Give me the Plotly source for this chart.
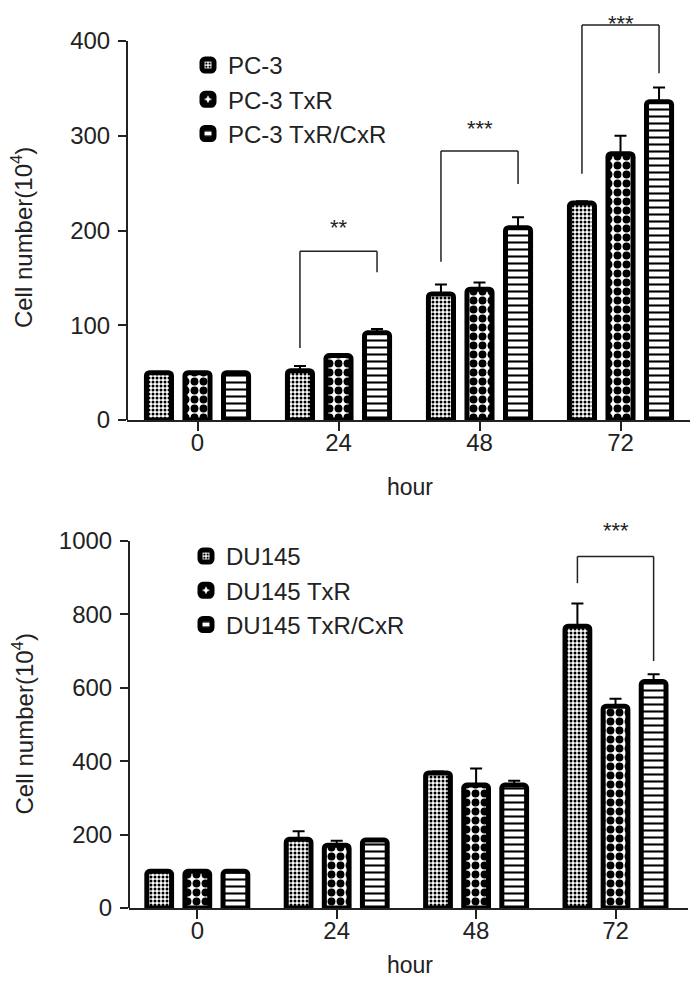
import plotly.graph_objects as go

# ---------------- data ----------------
hours = ["0", "24", "48", "72"]
xs = [0, 1, 2, 3]

pc3_names = ["PC-3", "PC-3 TxR", "PC-3 TxR/CxR"]
pc3 = [50, 52, 133, 229]
pc3_err = [0, 5, 10, 2]
pc3_txr = [50, 68, 138, 281]
pc3_txr_err = [0, 1, 7, 19]
pc3_cxr = [50, 92, 203, 336]
pc3_cxr_err = [0, 4, 11, 15]

du_names = ["DU145", "DU145 TxR", "DU145 TxR/CxR"]
du = [100, 187, 368, 768]
du_err = [0, 22, 4, 62]
du_txr = [100, 171, 335, 550]
du_txr_err = [0, 12, 45, 20]
du_cxr = [100, 185, 335, 617]
du_cxr_err = [0, 2, 12, 20]

# brackets: (group index, left series, right series, left foot, top, right foot, label, label y)
top_brackets = [
    (1, 0, 2, 76, 178, 156, "**", 203),
    (2, 0, 2, 167, 284, 249, "***", 308),
    (3, 0, 2, 260, 417, 366, "***", 434),
]
bot_brackets = [
    (3, 0, 2, 885, 958, 673, "***", 1029),
]

# ---------------- style ----------------
FONT = "Liberation Sans, Arial, sans-serif"
OFF = 8                      # page body margin of the html page
W, H = 698 - 2 * OFF, 986 - 2 * OFF
BARGAP = 0.18
GROUPGAP = 0.35
SLOT = (1 - BARGAP) / 3


def fx(p):
    """screen x pixel -> paper fraction"""
    return (p - OFF) / W


def fy(p):
    """screen y pixel -> paper fraction"""
    return (H - (p - OFF)) / H


patterns = [
    dict(shape=".", size=4, solidity=0.45),
    dict(shape=".", size=9, solidity=0.6),
    dict(shape="-", size=7, solidity=0.3),
]

# axis geometry (screen pixels)
Y1_ZERO_PX, Y1_400_PX = 420, 41
Y2_ZERO_PX, Y2_1000_PX = 908, 541
y1_scale = (Y1_ZERO_PX - Y1_400_PX) / 400.0
y1_top = (Y1_ZERO_PX - OFF) / y1_scale          # value at the very top of the page
y2_scale = (Y2_ZERO_PX - Y2_1000_PX) / 1000.0
y2_top = 1060

fig = go.Figure()


def add_series(vals, errs, name, pat, xa, ya, legend):
    fig.add_trace(go.Bar(
        x=xs, y=vals, name=name, xaxis=xa, yaxis=ya, legend=legend,
        legendgroup=name,
        marker=dict(color="white", line=dict(color="black", width=5),
                    cornerradius=3,
                    pattern=dict(fgcolor="black", bgcolor="white",
                                 fillmode="replace", **pat)),
        error_y=dict(type="data", array=errs, arrayminus=[0] * len(errs),
                     symmetric=False, color="black", thickness=2, width=6),
    ))


for v, e, n, p in zip([pc3, pc3_txr, pc3_cxr], [pc3_err, pc3_txr_err, pc3_cxr_err],
                      pc3_names, patterns):
    add_series(v, e, n, p, "x", "y", "legend")
for v, e, n, p in zip([du, du_txr, du_cxr], [du_err, du_txr_err, du_cxr_err],
                      du_names, patterns):
    add_series(v, e, n, p, "x2", "y2", "legend2")

shapes = []
annotations = []


def add_brackets(brs, xr, yr, fs, ytop):
    for g, a, b, lf, top, rf, lab, ly in brs:
        xa = g + (a - 1) * SLOT
        xb = g + (b - 1) * SLOT
        for (x0, y0, x1, y1) in [(xa, lf, xa, top), (xa, top, xb, top), (xb, top, xb, rf)]:
            shapes.append(dict(type="line", xref=xr, yref=yr, x0=x0, y0=y0, x1=x1, y1=y1,
                               line=dict(color="#222", width=1.5)))
        near_top = ly > ytop - 8
        annotations.append(dict(x=(xa + xb) / 2, y=min(ly, ytop - 0.5), xref=xr, yref=yr,
                                text=lab, xanchor="center",
                                yanchor="top" if near_top else "middle",
                                showarrow=False,
                                font=dict(size=fs, color="#222", family=FONT)))


add_brackets(top_brackets, "x", "y", 22, y1_top)
add_brackets(bot_brackets, "x2", "y2", 22, y2_top)

# domains
x1_dom = [fx(127), 1.0]
x2_dom = [fx(129), fx(688)]
y1_dom = [fy(Y1_ZERO_PX), 1.0]
y2_dom = [fy(Y2_ZERO_PX), fy(Y2_ZERO_PX - y2_top * y2_scale)]
GROUP_PX1 = 141.0
x1_span = (W - (127 - OFF)) / GROUP_PX1

# y axis lines (only up to the last tick)
shapes.append(dict(type="line", xref="paper", yref="y", x0=x1_dom[0], x1=x1_dom[0],
                   y0=0, y1=400, line=dict(color="#222", width=2)))
shapes.append(dict(type="line", xref="paper", yref="y2", x0=x2_dom[0], x1=x2_dom[0],
                   y0=0, y1=1000, line=dict(color="#222", width=2)))

# axis titles
ytitle_font = dict(size=24, color="#222", family=FONT)
xtitle_font = dict(size=23, color="#222", family=FONT)
annotations += [
    dict(text="Cell number(10<sup>4</sup>)", textangle=-90, xref="paper", yref="y",
         x=fx(22), y=192, xanchor="center", yanchor="middle", showarrow=False,
         font=ytitle_font),
    dict(text="Cell number(10<sup>4</sup>)", textangle=-90, xref="paper", yref="y2",
         x=fx(22), y=500, xanchor="center", yanchor="middle", showarrow=False,
         font=ytitle_font),
    dict(text="hour", xref="paper", yref="paper", x=fx(410), y=fy(487),
         xanchor="center", yanchor="middle", showarrow=False, font=xtitle_font),
    dict(text="hour", xref="paper", yref="paper", x=fx(410), y=fy(965),
         xanchor="center", yanchor="middle", showarrow=False, font=xtitle_font),
]

tick_font = dict(size=24, color="#222", family=FONT)
xcommon = dict(tickvals=xs, ticktext=hours, showline=True, linecolor="#222", linewidth=2,
               ticks="outside", ticklen=9, tickwidth=2, tickcolor="#222",
               showgrid=False, zeroline=False, tickfont=tick_font, ticklabelstandoff=-9,
               automargin=False, fixedrange=True)
ycommon = dict(showline=False, ticks="outside", ticklen=8, tickwidth=2, tickcolor="#222",
               showgrid=False, zeroline=False, tickfont=tick_font, ticklabelstandoff=3,
               automargin=False, fixedrange=True)

leg_font = dict(size=24, family=FONT, color="#222")
fig.update_layout(
    width=W, height=H, margin=dict(l=0, r=0, t=0, b=0, autoexpand=False),
    paper_bgcolor="white", plot_bgcolor="white",
    barmode="group", bargap=BARGAP, bargroupgap=GROUPGAP,
    font=dict(family=FONT, color="#222"),
    xaxis=dict(domain=x1_dom, range=[-0.5, -0.5 + x1_span], anchor="y", **xcommon),
    xaxis2=dict(domain=x2_dom, range=[-0.49, 3.52], anchor="y2", **xcommon),
    yaxis=dict(domain=y1_dom, range=[0, y1_top], tickvals=[0, 100, 200, 300, 400],
               anchor="x", **ycommon),
    yaxis2=dict(domain=y2_dom, range=[0, y2_top], tickvals=[0, 200, 400, 600, 800, 1000],
                anchor="x2", **ycommon),
    legend=dict(x=fx(188), y=fy(43), xanchor="left", yanchor="top",
                font=leg_font, traceorder="grouped", tracegroupgap=0,
                bgcolor="rgba(0,0,0,0)"),
    legend2=dict(x=fx(186), y=fy(534), xanchor="left", yanchor="top",
                 font=leg_font, traceorder="grouped", tracegroupgap=0,
                 bgcolor="rgba(0,0,0,0)"),
    shapes=shapes, annotations=annotations,
    showlegend=True,
)

fig.write_html("out.html")
